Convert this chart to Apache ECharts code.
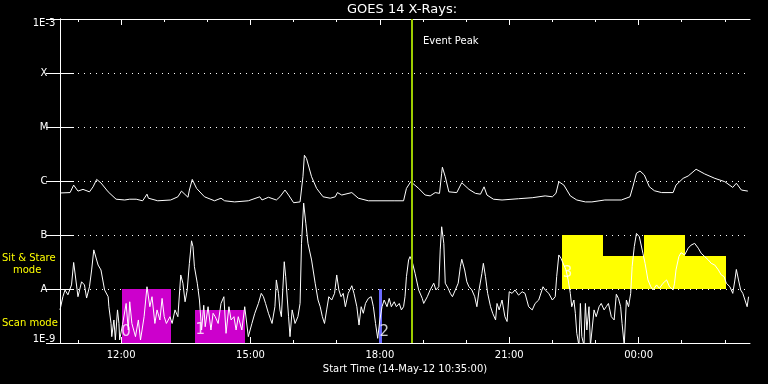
<!DOCTYPE html>
<html>
<head>
<meta charset="utf-8">
<script src="https://cdn.jsdelivr.net/npm/echarts@6/dist/echarts.min.js"></script>
<style>html,body{margin:0;padding:0;background:#000;}#c{width:768px;height:384px;}</style>
</head>
<body>
<div id="c"></div>
<script>
// Time axis: minutes after start (14-May-12 10:35:00)
const startMinuteOfDay = 10 * 60 + 35;
const majorTicks = [85, 265, 445, 625, 805];
const minorTicks = [25, 145, 205, 325, 385, 505, 565, 685, 745, 865, 925];
const yLabels = ['1E-9', 'A', 'B', 'C', 'M', 'X', '1E-3'];

// GOES 14 long channel (1-8 A), W/m^2
const longT = [
  0, 14, 19, 25, 32, 41, 46, 51, 57, 67,
  78, 90, 97, 106, 115, 121, 123, 136, 154, 164,
  169, 178, 180, 184, 190, 201, 215, 224, 229, 243,
  262, 278, 281, 290, 301, 306, 313, 318, 325, 334,
  338, 340, 343, 350, 357, 366, 376, 383, 386, 392,
  406, 415, 429, 448, 466, 478, 482, 488, 490, 499,
  508, 515, 522, 528, 531, 532, 536, 541, 552, 559,
  569, 578, 585, 590, 594, 603, 615, 638, 657, 675,
  685, 690, 694, 701, 710, 719, 731, 740, 758, 781,
  793, 797, 802, 807, 813, 820, 827, 837, 853, 857,
  867, 874, 885, 897, 911, 925, 936, 941, 948, 957
];
const longFlux = [
  6.0e-7, 6.1e-7, 8.4e-7, 6.5e-7, 7.0e-7, 6.3e-7, 7.8e-7, 1.07e-6, 9.2e-7, 6.3e-7,
  4.6e-7, 4.45e-7, 4.6e-7, 4.6e-7, 4.3e-7, 5.7e-7, 4.8e-7, 4.3e-7, 4.45e-7, 5.1e-7,
  6.5e-7, 5.0e-7, 6.8e-7, 1.07e-6, 7.3e-7, 5.1e-7, 4.3e-7, 4.8e-7, 4.3e-7, 4.1e-7,
  4.3e-7, 5.1e-7, 4.45e-7, 5.0e-7, 4.45e-7, 5.1e-7, 6.8e-7, 5.5e-7, 3.96e-7, 4.1e-7,
  1.2e-6, 3.0e-6, 2.6e-6, 1.2e-6, 7.3e-7, 5.1e-7, 4.8e-7, 5.1e-7, 6.1e-7, 5.5e-7,
  6.1e-7, 4.8e-7, 4.3e-7, 4.3e-7, 4.3e-7, 4.3e-7, 7.3e-7, 9.7e-7, 9.3e-7, 7.3e-7,
  5.5e-7, 5.3e-7, 6.1e-7, 5.9e-7, 1.39e-6, 1.8e-6, 1.2e-6, 6.3e-7, 6.1e-7, 9.3e-7,
  7.0e-7, 5.9e-7, 5.7e-7, 7.8e-7, 5.5e-7, 4.6e-7, 4.45e-7, 4.7e-7, 4.9e-7, 5.3e-7,
  5.1e-7, 5.9e-7, 9.7e-7, 8.4e-7, 5.3e-7, 4.45e-7, 4.1e-7, 4.1e-7, 4.45e-7, 4.45e-7,
  5.1e-7, 7.8e-7, 1.39e-6, 1.53e-6, 1.29e-6, 7.8e-7, 6.6e-7, 6.1e-7, 6.1e-7, 8.4e-7,
  1.12e-6, 1.24e-6, 1.65e-6, 1.35e-6, 1.12e-6, 9.7e-7, 7.6e-7, 9.1e-7, 6.8e-7, 6.5e-7
];

// GOES 14 short channel (0.5-4 A), W/m^2
const shortT = [
  0, 4, 7, 11, 16, 19, 20, 25, 30, 34,
  37, 41, 44, 47, 49, 53, 57, 62, 67, 68,
  71, 72, 75, 77, 80, 82, 83, 87, 92, 95,
  97, 100, 105, 109, 112, 117, 121, 125, 128, 132,
  135, 139, 142, 145, 148, 153, 156, 160, 164, 168,
  171, 174, 177, 180, 183, 185, 187, 191, 194, 197,
  200, 202, 206, 210, 213, 216, 220, 224, 228, 231,
  235, 238, 242, 245, 248, 253, 257, 262, 267, 271,
  276, 280, 283, 286, 290, 295, 299, 301, 304, 306,
  308, 312, 314, 318, 320, 323, 327, 331, 334, 336,
  339, 342, 345, 350, 355, 359, 362, 365, 368, 371,
  374, 378, 382, 385, 388, 391, 394, 397, 401, 406,
  409, 413, 416, 419, 422, 425, 429, 433, 436, 439,
  442, 445, 448, 451, 455, 458, 461, 465, 468, 472,
  475, 478, 480, 482, 485, 487, 490, 494, 499, 504,
  506, 511, 515, 520, 523, 527, 529, 531, 534, 536,
  540, 543, 546, 550, 554, 557, 559, 563, 566, 569,
  573, 577, 580, 583, 587, 589, 592, 595, 599, 602,
  606, 608, 611, 615, 619, 622, 625, 629, 633, 638,
  643, 647, 652, 657, 661, 666, 672, 675, 680, 685,
  689, 691, 694, 697, 701, 704, 707, 710, 712, 715,
  717, 719, 722, 724, 726, 729, 731, 733, 736, 738,
  743, 746, 750, 753, 757, 760, 763, 767, 771, 774,
  777, 780, 782, 785, 788, 791, 794, 796, 799, 802,
  806, 811, 814, 818, 822, 825, 830, 834, 839, 844,
  848, 853, 855, 857, 861, 864, 869, 874, 878, 883,
  888, 892, 897, 902, 906, 911, 916, 920, 924, 927,
  932, 936, 939, 941, 944, 947, 950, 953, 956, 958
];
const shortFlux = [
  4.1e-9, 7.2e-9, 9.6e-9, 7.8e-9, 1.19e-8, 3.1e-8, 3.0e-8, 7.2e-9, 1.36e-8, 1.19e-8,
  6.8e-9, 1.1e-8, 2.25e-8, 5.3e-8, 5.4e-8, 2.78e-8, 2.25e-8, 9.6e-9, 7.2e-9, 4.7e-9,
  2.3e-9, 1.31e-9, 2.67e-9, 1.14e-9, 4.1e-9, 2.3e-9, 1.14e-9, 2.2e-9, 5.4e-9, 1.74e-9,
  5.8e-9, 2.3e-9, 1.31e-9, 2.67e-9, 1.14e-9, 3.07e-9, 1.1e-8, 4.7e-9, 7.2e-9, 2.3e-9,
  4.1e-9, 2.67e-9, 6.7e-9, 3.07e-9, 2.3e-9, 3.07e-9, 2.3e-9, 4.1e-9, 3.07e-9, 1.82e-8,
  1.28e-8, 5.8e-9, 9.6e-9, 2.99e-8, 7.8e-8, 6.1e-8, 2.59e-8, 1.28e-8, 6.25e-9, 1.74e-9,
  5.0e-9, 2.0e-9, 4.7e-9, 1.74e-9, 3.55e-9, 3.07e-9, 2.3e-9, 5.4e-9, 7.2e-9, 1.51e-9,
  4.7e-9, 2.67e-9, 3.07e-9, 1.74e-9, 3.07e-9, 1.74e-9, 4.7e-9, 1.31e-9, 2.3e-9, 3.55e-9,
  5.4e-9, 8.3e-9, 7.2e-9, 5.4e-9, 3.55e-9, 2.3e-9, 4.7e-9, 1.47e-8, 8.3e-9, 4.1e-9,
  3.07e-9, 3.2e-8, 1.69e-8, 3.07e-9, 1.31e-9, 4.1e-9, 2.3e-9, 3.07e-9, 5.4e-9, 7.0e-8,
  3.9e-7, 1.65e-7, 7.0e-8, 3.45e-8, 1.28e-8, 6.25e-9, 4.7e-9, 3.07e-9, 2.3e-9, 4.1e-9,
  7.2e-9, 6.25e-9, 8.3e-9, 1.82e-8, 9.6e-9, 7.2e-9, 8.3e-9, 4.7e-9, 8.3e-9, 1.15e-8,
  8.3e-9, 4.7e-9, 2.15e-9, 4.7e-9, 3.55e-9, 5.4e-9, 6.7e-9, 7.2e-9, 4.7e-9, 2.3e-9,
  1.22e-9, 2.67e-9, 4.7e-9, 6.25e-9, 4.7e-9, 6.7e-9, 4.7e-9, 5.8e-9, 4.7e-9, 5.4e-9,
  4.1e-9, 4.7e-9, 7.2e-9, 1.69e-8, 3.45e-8, 3.98e-8, 3.2e-8, 1.95e-8, 9.6e-9, 6.7e-9,
  5.4e-9, 7.2e-9, 9.6e-9, 1.28e-8, 9.6e-9, 1.1e-8, 5.3e-8, 1.42e-7, 7.0e-8, 1.28e-8,
  1.03e-8, 8.3e-9, 7.2e-9, 9.6e-9, 1.28e-8, 2.59e-8, 3.55e-8, 2.25e-8, 1.36e-8, 1.1e-8,
  9.6e-9, 7.2e-9, 4.7e-9, 9.6e-9, 1.95e-8, 2.99e-8, 1.69e-8, 8.3e-9, 4.7e-9, 3.55e-9,
  2.67e-9, 5.4e-9, 4.1e-9, 6.25e-9, 3.07e-9, 2.5e-9, 8.9e-9, 8.3e-9, 9.6e-9, 7.7e-9,
  8.9e-9, 8.3e-9, 4.7e-9, 4.1e-9, 5.4e-9, 6.25e-9, 1.1e-8, 9.6e-9, 8.3e-9, 6.25e-9,
  7.2e-9, 1.69e-8, 4.27e-8, 3.7e-8, 2.78e-8, 2.25e-8, 1.47e-8, 8.3e-9, 4.7e-9, 6.25e-9,
  3.55e-9, 1.51e-9, 9e-10, 5.4e-9, 1.31e-9, 9e-10, 5.4e-9, 1.74e-9, 4.7e-9, 9e-10,
  4.1e-9, 3.07e-9, 4.7e-9, 5.4e-9, 4.1e-9, 4.7e-9, 5.4e-9, 3.07e-9, 2.67e-9, 8.0e-9,
  6.7e-9, 4.7e-9, 2.3e-9, 9e-10, 6.25e-9, 4.7e-9, 8.3e-9, 2.59e-8, 6.1e-8, 1.07e-7,
  9.3e-8, 4.6e-8, 2.99e-8, 1.47e-8, 1.1e-8, 9.6e-9, 1.19e-8, 1.03e-8, 1.28e-8, 1.47e-8,
  1.1e-8, 9.6e-9, 1.28e-8, 2.25e-8, 3.98e-8, 4.7e-8, 4.27e-8, 5.7e-8, 6.5e-8, 7.0e-8,
  5.7e-8, 4.6e-8, 3.98e-8, 3.45e-8, 2.99e-8, 2.78e-8, 2.25e-8, 1.82e-8, 1.69e-8, 1.28e-8,
  1.1e-8, 8.3e-9, 1.47e-8, 2.3e-8, 1.47e-8, 9.6e-9, 8.3e-9, 6.25e-9, 4.7e-9, 7.2e-9
];

// Instrument mode intervals (minutes after start) and flux extents
const modeStart = [86, 188, 444, 698, 755, 812, 869];
const modeEnd = [154, 257, 448, 755, 812, 869, 927];
const modeLow = [1e-9, 1e-9, 1e-9, 1e-8, 1e-8, 1e-8, 1e-8];
const modeHigh = [1e-8, 4.1e-9, 1e-8, 1e-7, 4.1e-8, 1e-7, 4.1e-8];
const modeKind = ['scan', 'scan', 'other', 'stare', 'stare', 'stare', 'stare'];

// Numbered interval labels
const markText = ['0', '1', '2', '3'];
const markT = [92, 195, 451, 706];
const markFlux = [1.6e-9, 1.74e-9, 1.56e-9, 2.0e-8];

const eventPeakT = 489;

const FONT = 'DejaVu Sans';
const modeColor = { scan: '#cc00cc', other: '#6a6aff', stare: '#ffff00' };

function fmtTime(m) {
  const total = (startMinuteOfDay + Math.round(m)) % 1440;
  const h = Math.floor(total / 60), mm = total % 60;
  return String(h).padStart(2, '0') + ':' + String(mm).padStart(2, '0');
}

const longData = longT.map((t, i) => [t, longFlux[i]]);
const shortData = shortT.map((t, i) => [t, shortFlux[i]]);
const modeData = modeStart.map((s, i) => [s, modeEnd[i], modeLow[i], modeHigh[i]]);
const markData = markT.map((t, i) => ({ value: [t, markFlux[i]], name: markText[i] }));

const white = '#ffffff';
function xAxisDef(pos, ticks, len, showLine, showLabel) {
  return {
    type: 'value', min: 0, max: 960, position: pos,
    axisLine: { show: showLine, onZero: false, lineStyle: { color: white, width: 1 } },
    axisTick: { show: true, inside: true, length: len, customValues: ticks, lineStyle: { color: white, width: 1 } },
    axisLabel: showLabel ? { show: true, customValues: ticks, formatter: v => fmtTime(v), color: white, fontSize: 10, fontFamily: FONT, margin: 7 } : { show: false },
    splitLine: { show: false }
  };
}

const chart = echarts.init(document.getElementById('c'), null, { renderer: 'canvas' });
const bottomAxis = xAxisDef('bottom', majorTicks, 6, true, true);
bottomAxis.name = 'Start Time (14-May-12 10:35:00)';
bottomAxis.nameLocation = 'middle';
bottomAxis.nameGap = 20;
bottomAxis.nameTextStyle = { color: white, fontSize: 10, fontFamily: FONT };

chart.setOption({
  animation: false,
  backgroundColor: '#000000',
  grid: { left: 60, right: 18, top: 19, bottom: 41, containLabel: false },
  xAxis: [
    bottomAxis,
    xAxisDef('bottom', minorTicks, 3, false, false),
    xAxisDef('top', majorTicks, 6, true, false),
    xAxisDef('top', minorTicks, 3, false, false)
  ],
  yAxis: [
    {
      type: 'log', logBase: 10, min: 1e-9, max: 1e-3, position: 'left',
      axisLine: { show: true, lineStyle: { color: white, width: 1 } },
      axisTick: { show: true, inside: true, length: 14, lineStyle: { color: white } },
      axisLabel: {
        color: white, fontSize: 10, fontFamily: FONT, align: 'center', margin: 16,
        formatter: v => {
          const k = Math.round(Math.log10(v)) + 9;
          const s = yLabels[k] || '';
          if (k === 0) return '{lo|' + s + '}';
          if (k === 6) return '{hi|' + s + '}';
          return s;
        },
        rich: {
          lo: { color: white, fontSize: 10, fontFamily: FONT, padding: [0, 0, 7, 0] },
          hi: { color: white, fontSize: 10, fontFamily: FONT, padding: [9, 0, 0, 0] }
        }
      },
      splitLine: { show: true, lineStyle: { color: white, width: 1, type: [1, 5] } }
    },
    {
      type: 'log', logBase: 10, min: 1e-9, max: 1e-3, position: 'right',
      axisLine: { show: true, lineStyle: { color: white, width: 1 } },
      axisTick: { show: true, inside: true, length: 14, lineStyle: { color: white } },
      axisLabel: { show: false },
      splitLine: { show: false }
    }
  ],
  series: [
    {
      type: 'custom', name: 'modes', z: 1, silent: true,
      encode: { x: [0, 1], y: [2, 3] },
      data: modeData,
      renderItem: function (params, api) {
        const p0 = api.coord([api.value(0), api.value(3)]);
        const p1 = api.coord([api.value(1), api.value(2)]);
        const x0 = Math.round(p0[0]), y0 = Math.round(p0[1]);
        const x1 = Math.round(p1[0]), y1 = Math.round(p1[1]);
        return {
          type: 'rect',
          shape: { x: x0, y: y0, width: x1 - x0, height: y1 - y0 },
          style: { fill: modeColor[modeKind[params.dataIndex]] }
        };
      }
    },
    {
      type: 'line', name: 'short', z: 2, showSymbol: false, symbol: 'none', silent: true,
      data: shortData, lineStyle: { color: white, width: 1 }, clip: true
    },
    {
      type: 'line', name: 'long', z: 3, showSymbol: false, symbol: 'none', silent: true,
      data: longData, lineStyle: { color: white, width: 1 }, clip: true,
      markLine: {
        silent: true, symbol: ['none', 'none'], label: { show: false },
        lineStyle: { color: '#9ccc00', width: 2, type: 'solid' },
        data: [{ xAxis: eventPeakT }]
      }
    },
    {
      type: 'scatter', name: 'marks', z: 4, silent: true, symbolSize: 1,
      itemStyle: { color: 'rgba(0,0,0,0)' },
      data: markData,
      label: {
        show: true, position: 'inside', formatter: p => p.name,
        color: white, fontSize: 15, fontWeight: 'normal', fontFamily: FONT
      }
    }
  ],
  graphic: [
    { type: 'text', left: 347, top: 3, style: { text: 'GOES 14 X-Rays:', fill: white, font: '13px "DejaVu Sans"' } },
    { type: 'text', left: 423, top: 36, style: { text: 'Event Peak', fill: white, font: '10px "DejaVu Sans"' } },
    { type: 'text', left: 2, top: 253, style: { text: 'Sit & Stare', fill: '#ffff00', font: '10px "DejaVu Sans"' } },
    { type: 'text', left: 13, top: 265, style: { text: 'mode', fill: '#ffff00', font: '10px "DejaVu Sans"' } },
    { type: 'text', left: 2, top: 318, style: { text: 'Scan mode', fill: '#ffff00', font: '10px "DejaVu Sans"' } }
  ]
});
</script>
</body>
</html>
